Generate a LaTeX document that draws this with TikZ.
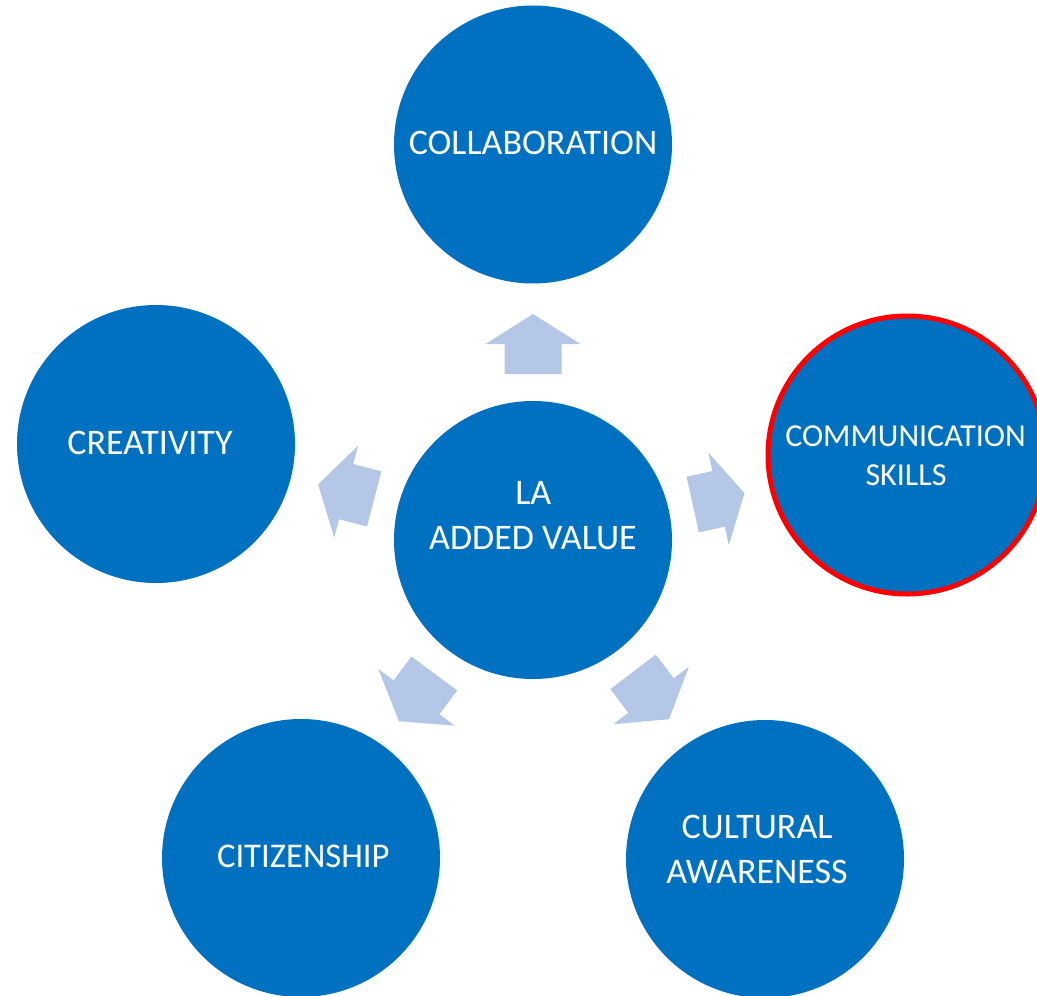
\documentclass[tikz,border=0pt]{standalone}
\usepackage{fontspec}
\setmainfont{Carlito}
\definecolor{circblue}{HTML}{0070C0}
\definecolor{arrowfill}{HTML}{B4C7E7}
\definecolor{ringred}{HTML}{FF0000}
\tikzset{
  bubble/.style={circle, fill=circblue, minimum size=208.5pt, inner sep=0pt, outer sep=0pt},
  redring/.style={draw=ringred, line width=3.75pt},
  bigtxt/.style={text=white, font=\fontsize{27}{33}\selectfont, anchor=base, inner sep=0pt},
  smalltxt/.style={text=white, font=\fontsize{24}{29}\selectfont, anchor=base, inner sep=0pt},
}
\newcommand{\blockarrow}[3]{%
  \begin{scope}[shift={(ctr.center)}, rotate=#1]
    \fill[arrowfill] (#2,-28.5) -- ({#2+#3/2},-28.5) -- ({#2+#3/2},-47.5) -- ({#2+#3},0)
      -- ({#2+#3/2},47.5) -- ({#2+#3/2},28.5) -- (#2,28.5) -- cycle;
  \end{scope}}
\begin{document}
\begin{tikzpicture}[x=0.75pt, y=-0.75pt]
  \useasboundingbox (0,0) rectangle (1037,995);
  \clip (0,0) rectangle (1037,995);

  % circles
  \node[bubble] (ctr) at (533,540) {};
  \node[bubble] (collab) at (533,144.5) {};
  \node[bubble] (creat) at (156,444) {};
  \node[bubble, redring] (comm) at (907,455) {};
  \node[bubble] (citiz) at (301,858) {};
  \node[bubble] (cult) at (765,859) {};

  % block arrows from the centre towards the outer circles
  \blockarrow{90}{166}{60}
  \blockarrow{12.5}{163.6}{53}
  \blockarrow{165.5}{164}{58}
  \blockarrow{-126.5}{166}{59.5}
  \blockarrow{-52.8}{165.5}{59.5}

  % texts
  \node[bigtxt] (tla) at (533.3,504) {LA};
  \node[bigtxt] (tadded) at (533,549) {ADDED VALUE};
  \node[bigtxt] (tcollab) at (533,154.3) {COLLABORATION};
  \node[bigtxt] (tcreat) at (150,454.3) {CREATIVITY};
  \node[bigtxt, font=\fontsize{26}{32}\selectfont] (tcitiz) at (303.3,867.7) {CITIZENSHIP};
  \node[bigtxt] (tcult1) at (757,838.3) {CULTURAL};
  \node[bigtxt] (tcult2) at (757,883.3) {AWARENESS};
  \node[smalltxt] (tcomm1) at (905.5,446.7) {COMMUNICATION};
  \node[smalltxt] (tcomm2) at (906,485.7) {SKILLS};
\end{tikzpicture}
\end{document}
